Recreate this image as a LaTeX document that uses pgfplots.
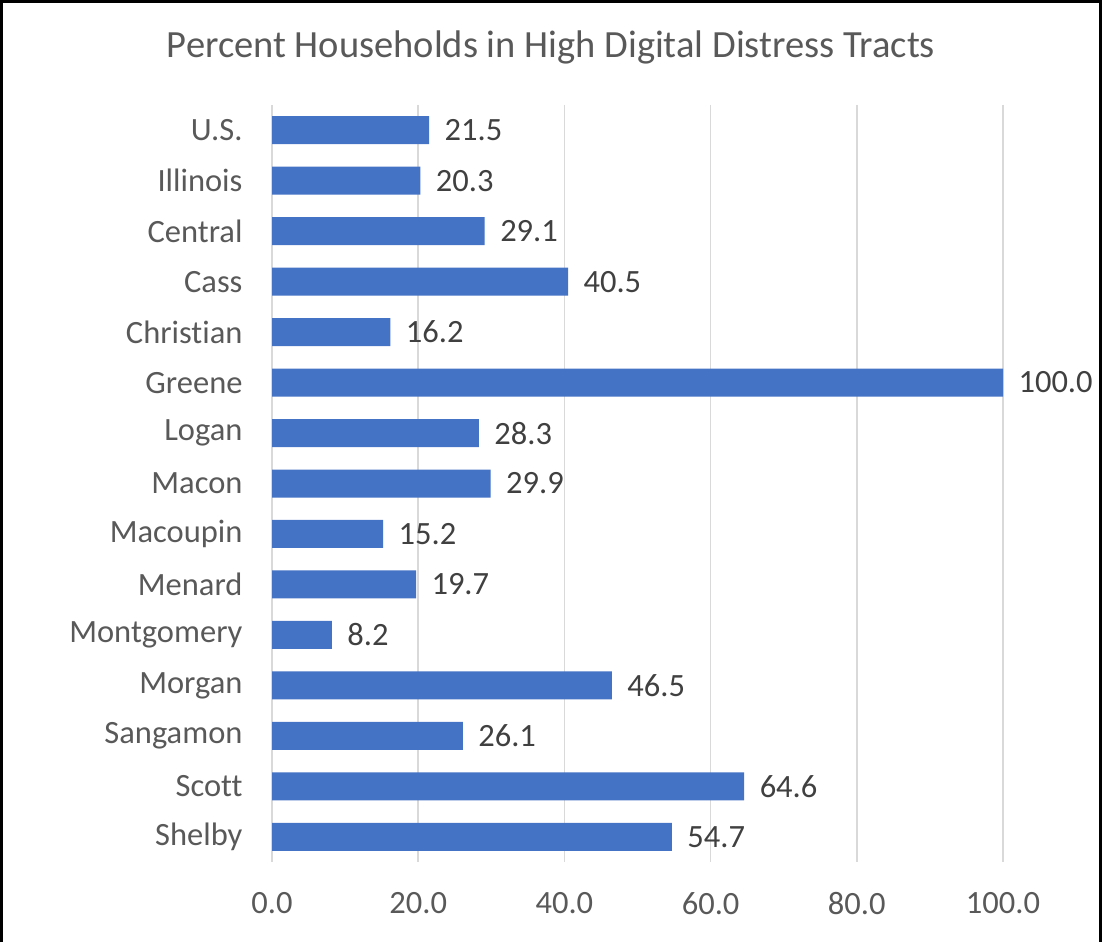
\documentclass[border=0pt]{standalone}
\usepackage{pgfplots}
\pgfplotsset{compat=1.18}
\usepackage{fontspec}
\setmainfont[RawFeature={-liga;-clig;-calt}]{Carlito}
\definecolor{barblue}{HTML}{4472C4}
\definecolor{txtgray}{HTML}{595959}
\definecolor{lbldark}{HTML}{404040}
\definecolor{gridgray}{HTML}{D9D9D9}
\begin{document}
\begin{tikzpicture}
\useasboundingbox (0,0) rectangle (1102pt,942pt);
\draw[black,line width=2.5pt] (1.5pt,0) -- (1.5pt,940.5pt) -- (1100.5pt,940.5pt) -- (1100.5pt,0);
\node[text=txtgray,font=\fontsize{38.5}{44}\selectfont] at (551pt,895pt) {Percent Households in High Digital Distress Tracts};
\begin{axis}[
  at={(272pt,80pt)}, anchor=south west,
  scale only axis, width=731pt, height=757pt,
  xbar, bar width=28pt,
  xmin=0, xmax=100,
  ymin=-0.5, ymax=14.5, y dir=reverse,
  ytick={0,...,14},
  yticklabels={U.S.,Illinois,Central,Cass,Christian,Greene,Logan,Macon,Macoupin,Menard,Montgomery,Morgan,Sangamon,Scott,Shelby},
  xtick={0,20,40,60,80,100},
  xticklabel={\pgfmathprintnumber[fixed,precision=1,zerofill]{\tick}},
  /pgf/number format/assume math mode=true,
  axis line style={draw=none},
  major tick length=0pt,
  xmajorgrids, grid style={gridgray,line width=1.5pt},
  ticklabel style={text=txtgray,font=\fontsize{32.5}{38}\selectfont},
  xticklabel style={yshift=-27pt},
  yticklabel style={xshift=-26pt},
  nodes near coords,
  nodes near coords style={text=lbldark,font=\fontsize{32.5}{38}\selectfont,anchor=west,xshift=12pt,
    /pgf/number format/.cd,fixed,precision=1,zerofill,assume math mode=true},
  point meta=x,
]
\addplot[fill=barblue,draw=none] coordinates {
(21.5,0) (20.3,1) (29.1,2) (40.5,3) (16.2,4) (100.0,5) (28.3,6) (29.9,7)
(15.2,8) (19.7,9) (8.2,10) (46.5,11) (26.1,12) (64.6,13) (54.7,14)
};
\end{axis}
\end{tikzpicture}
\end{document}
